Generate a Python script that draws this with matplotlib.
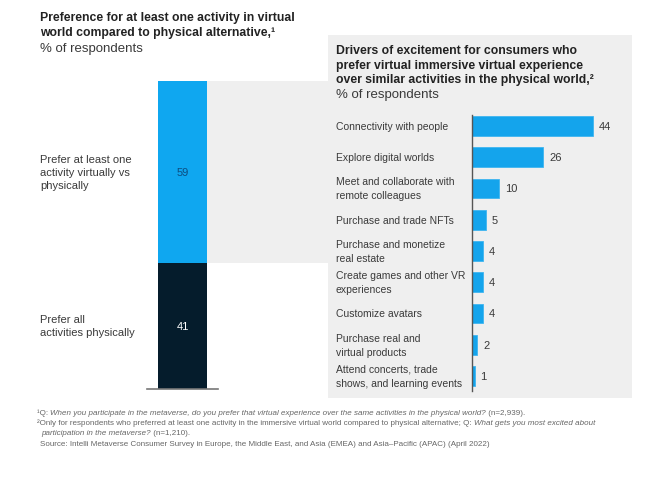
import matplotlib
matplotlib.use('Agg')
import matplotlib.pyplot as plt
from matplotlib.patches import Rectangle
from matplotlib.transforms import blended_transform_factory

plt.rcParams['font.family'] = ['Liberation Sans Narrow', 'Liberation Sans', 'DejaVu Sans']

# data
choice_labels = ['Prefer all\nactivities physically',
                 'Prefer at least one\nactivity virtually vs\nphysically']
choice_values = [41, 59]
choice_colors = ['#051c2c', '#0fa7f0']
choice_text = ['#ffffff', '#0d4d80']

driver_labels = ['Connectivity with people',
                 'Explore digital worlds',
                 'Meet and collaborate with\nremote colleagues',
                 'Purchase and trade NFTs',
                 'Purchase and monetize\nreal estate',
                 'Create games and other VR\nexperiences',
                 'Customize avatars',
                 'Purchase real and\nvirtual products',
                 'Attend concerts, trade\nshows, and learning events']
driver_values = [44, 26, 10, 5, 4, 4, 4, 2, 1]

W, H = 664, 481
def fx(x):
    return x / W
def fy(y):
    return 1 - y / H

fig = plt.figure(figsize=(6.64, 4.81), dpi=100)
bg = fig.add_axes([0, 0, 1, 1])
bg.axis('off')
bg.set_xlim(0, 1)
bg.set_ylim(0, 1)

grey = '#efefef'
txt = '#3a3a3a'
num_font = ['Liberation Sans', 'DejaVu Sans']

# right panel background
bg.add_patch(Rectangle((fx(328), fy(399)), fx(632) - fx(328), fy(36) - fy(399),
                       facecolor=grey, edgecolor='none', zorder=0))

# left stacked bar
ax1 = fig.add_axes([fx(147), fy(390), fx(218) - fx(147), fy(82) - fy(390)])
ax1.set_xlim(-0.5, 0.5)
ax1.set_ylim(0, 100)
bottom = 0
for lab, v, c, tc in zip(choice_labels, choice_values, choice_colors, choice_text):
    ax1.bar(0, v, width=0.69, bottom=bottom, color=c)
    ax1.text(0, bottom + v / 2, str(v), ha='center', va='center', color=tc,
             fontsize=8, family=num_font)
    ax1.text(fx(40), bottom + v / 2, lab, ha='left', va='center', color=txt,
             fontsize=8, linespacing=1.4,
             transform=blended_transform_factory(fig.transFigure, ax1.transData))
    bottom += v
ax1.set_facecolor('none')
for s in ['top', 'left', 'right']:
    ax1.spines[s].set_visible(False)
ax1.spines['bottom'].set_color('#777777')
ax1.spines['bottom'].set_linewidth(1.2)
ax1.set_xticks([])
ax1.set_yticks([])

# connector band between the bar's virtual share and the right panel
band = blended_transform_factory(fig.transFigure, ax1.transData)
bg.add_patch(Rectangle((fx(207), choice_values[0]), fx(328) - fx(207), choice_values[1],
                       transform=band, facecolor=grey, edgecolor='none', zorder=0,
                       clip_on=False))

# right bar chart
ax2 = fig.add_axes([fx(472), fy(392), fx(632) - fx(472), fy(116) - fy(392)])
ax2.set_facecolor('none')
y = range(len(driver_values))
ax2.barh(y, driver_values, height=0.63, color='#14a4ec', edgecolor='#3fb5f0', linewidth=0.6)
ax2.set_ylim(8.48, -0.35)
ax2.set_xlim(0, 58.2)
for i, (lab, v) in enumerate(zip(driver_labels, driver_values)):
    ax2.annotate(str(v), (v, i), xytext=(4, 0), textcoords='offset points',
                 ha='left', va='center', fontsize=8, color=txt, family=num_font)
    ax2.text(fx(336), i, lab, ha='left', va='center', fontsize=7.5, color=txt,
             linespacing=1.5,
             transform=blended_transform_factory(fig.transFigure, ax2.transData))
for s in ['top', 'right', 'bottom']:
    ax2.spines[s].set_visible(False)
ax2.spines['left'].set_color('#555555')
ax2.spines['left'].set_linewidth(1)
ax2.set_xticks([])
ax2.set_yticks([])

# titles
fig.text(fx(40), fy(21), 'Preference for at least one activity in virtual',
         fontsize=8.8, fontweight='bold', color='#222222', va='baseline')
fig.text(fx(40), fy(36), 'world compared to physical alternative,\u00b9',
         fontsize=8.8, fontweight='bold', color='#222222', va='baseline')
fig.text(fx(40), fy(52), '% of respondents', fontsize=9.5, color=txt, va='baseline')

fig.text(fx(336), fy(54), 'Drivers of excitement for consumers who',
         fontsize=8.8, fontweight='bold', color='#222222', va='baseline')
fig.text(fx(336), fy(68.5), 'prefer virtual immersive virtual experience',
         fontsize=8.8, fontweight='bold', color='#222222', va='baseline')
fig.text(fx(336), fy(83), 'over similar activities in the physical world,\u00b2',
         fontsize=8.8, fontweight='bold', color='#222222', va='baseline')
fig.text(fx(336), fy(98), '% of respondents', fontsize=9.5, color=txt, va='baseline')

# footnotes with mixed italic parts
def rich_line(parts, x, y):
    prev = None
    for s, style in parts:
        if prev is None:
            prev = bg.text(fx(x), fy(y), s, style=style, fontsize=5.8, color='#666666',
                           va='bottom', ha='left')
        else:
            prev = bg.annotate(s, xy=(1, 0), xycoords=prev, style=style, fontsize=5.8,
                               color='#666666', va='bottom', ha='left')

rich_line([('\u00b9Q: ', 'normal'),
           ('When you participate in the metaverse, do you prefer that virtual experience '
            'over the same activities in the physical world?', 'italic'),
           (' (n=2,939).', 'normal')], 37, 417)
rich_line([('\u00b2Only for respondents who preferred at least one activity in the immersive '
            'virtual world compared to physical alternative; Q: ', 'normal'),
           ('What gets you most excited about', 'italic')], 37, 427)
rich_line([('participation in the metaverse?', 'italic'),
           (' (n=1,210).', 'normal')], 41, 437)
rich_line([('Source: Intelli Metaverse Consumer Survey in Europe, the Middle East, and Asia '
            '(EMEA) and Asia\u2013Pacific (APAC) (April 2022)', 'normal')], 40, 448)

fig.savefig('out.png', dpi=100, facecolor='white')
